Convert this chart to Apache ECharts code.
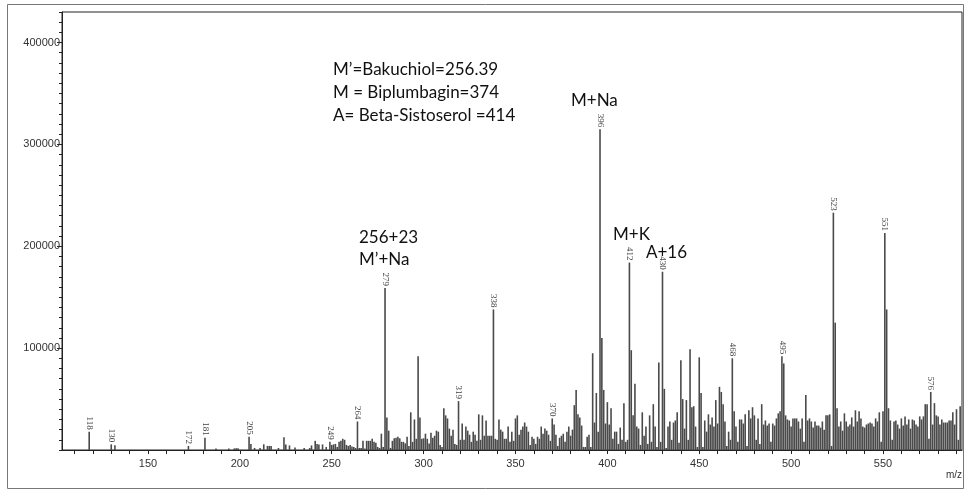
<!DOCTYPE html>
<html><head><meta charset="utf-8">
<script src="https://cdn.jsdelivr.net/npm/echarts@6/dist/echarts.min.js"></script>
<style>html,body{margin:0;padding:0;background:#fff}#c{width:968px;height:492px}</style>
</head><body><div id="c"></div>
<script>
// Sparse low-mass peaks (m/z, intensity)
const lowMz = [118,130,132,172,181,187,194,197,198,199,205,206,208,211,213,215,216,217,221,224,225,227,230,235,238,239,241,242,243,245,247];
const lowIntensity = [18000,5600,4600,4000,12000,1500,1500,1600,1600,1600,13000,6000,2000,2000,5600,4000,4000,4000,2000,12500,5500,4500,2500,2000,2000,4500,9000,6000,5500,5500,3000];

// Dense region: one peak per integer m/z starting at 249
const denseStartMz = 249;
const intensity249to328 = [
  8000,5000,5500,6000,3000,8000,9000,11000,10000,5000,
  4000,5000,3500,3000,2000,28000,2000,2000,9000,1500,
  9000,9000,9000,11000,8000,7000,3000,2000,16000,3000,
  159000,32000,19000,2000,9000,11500,12000,13000,11500,8000,
  8000,6500,13000,4000,37000,8000,30000,11000,92000,32000,
  11000,11500,16000,11000,6500,17000,12000,14000,19000,18000,
  5000,3000,41000,34000,31000,21000,14000,20000,6000,5000,
  48000,10000,26000,10000,23000,19000,15000,8000,18000,15000
];
const intensity329to408 = [
  9000,35000,10000,34000,14000,29000,14000,14000,14000,138000,
  11000,10000,30000,20000,18000,11000,11000,23000,8000,18000,
  9000,31000,34000,15000,20000,23000,27000,23000,18000,5000,
  13000,11000,6000,13000,11000,23000,16000,21000,19000,15000,
  9000,31000,25000,15000,4000,12000,14000,16000,8000,18000,
  23000,14000,20000,44000,59000,35000,32000,24000,3000,3000,
  13000,15000,3000,95000,27000,56000,18000,315000,110000,59000,
  26000,47000,25000,41000,11000,18000,18000,6000,22000,10000
];
const intensity409to498 = [
  46000,8000,10000,184000,98000,34000,65000,23000,21000,5000,
  37000,14000,23000,6000,34000,8000,45000,23000,3000,86000,
  8000,175000,60000,2000,23000,28000,10000,27000,29000,37000,
  7000,88000,50000,21000,49000,10000,99000,42000,43000,23000,
  3000,91000,56000,3000,29000,18000,35000,25000,32000,23000,
  49000,26000,62000,57000,45000,28000,4000,18000,10000,90000,
  38000,23000,8000,30000,30000,26000,35000,4000,39000,31000,
  42000,34000,10000,31000,6000,45000,25000,29000,24000,26000,
  8000,26000,24000,31000,36000,38000,92000,85000,34000,30000
];
const intensity499to592 = [
  29000,23000,31000,31000,31000,28000,21000,31000,8000,54000,
  29000,31000,28000,22000,28000,24000,24000,22000,28000,20000,
  34000,34000,35000,4000,233000,125000,41000,23000,28000,19000,
  36000,28000,23000,25000,32000,23000,39000,28000,38000,31000,
  23000,22000,25000,26000,27000,26000,23000,31000,28000,37000,
  8000,38000,213000,138000,41000,29000,10000,28000,29000,25000,
  21000,31000,24000,33000,25000,30000,21000,30000,29000,25000,
  23000,33000,30000,33000,45000,45000,11000,57000,25000,46000,
  34000,33000,25000,30000,27000,27000,27000,29000,29000,37000,
  25000,40000,10000,43000
];

const labeledPeaks = [118,130,172,181,205,249,264,279,319,338,370,396,412,430,468,495,523,551,576];
const xLabelValues = [150,200,250,300,350,400,450,500,550];
const xTickValues = [110,120,130,140,150,160,170,180,190,200,210,220,230,240,250,260,270,280,290,300,310,320,330,340,350,360,370,380,390,400,410,420,430,440,450,460,470,480,490,500,510,520,530,540,550,560,570,580,590];
const yLabelValues = [100000,200000,300000,400000];

const denseIntensity = [].concat(intensity249to328, intensity329to408, intensity409to498, intensity499to592);
const mz = lowMz.concat(denseIntensity.map((_, i) => denseStartMz + i));
const intensity = lowIntensity.concat(denseIntensity);

const data = mz.map((m, i) => ({
  value: [m, intensity[i]],
  label: { show: labeledPeaks.indexOf(m) >= 0 }
}));

const chart = echarts.init(document.getElementById('c'), null, { renderer: 'canvas' });
const annFont = 'Lato, "Open Sans", sans-serif';
const annColor = '#111';
function ann(text, x, y) {
  return { type: 'text', left: x, top: y, z: 100,
    style: { text: text, fontSize: 17, fontFamily: annFont, fill: annColor } };
}
chart.setOption({
  animation: false,
  backgroundColor: '#fff',
  grid: { left: 62, right: 6, top: 12, bottom: 42, show: true, borderColor: '#222', borderWidth: 1 },
  xAxis: {
    type: 'value', min: 103.2, max: 593,
    axisLine: { show: true, lineStyle: { color: '#222', width: 1 } },
    axisTick: { show: true, customValues: xTickValues, length: 4, lineStyle: { color: '#222' } },
    axisLabel: { customValues: xLabelValues, fontSize: 11, color: '#333', fontFamily: '"Liberation Sans", Arial, sans-serif', margin: 8,
      formatter: v => String(v) },
    splitLine: { show: false }
  },
  yAxis: [{
    type: 'value', min: 0, max: 430000,
    axisLine: { show: true, lineStyle: { color: '#222', width: 1 } },
    axisTick: { show: true, customValues: yLabelValues, length: 5, lineStyle: { color: '#222' } },
    axisLabel: { customValues: yLabelValues, fontSize: 11, color: '#333', fontFamily: '"Liberation Sans", Arial, sans-serif', margin: 2,
      formatter: v => String(v) },
    splitLine: { show: false }
  }, {
    type: 'value', min: 0, max: 430000, interval: 10000, position: 'left',
    axisLine: { show: false },
    axisTick: { show: true, length: 3, lineStyle: { color: '#222' } },
    axisLabel: { show: false },
    splitLine: { show: false }
  }],
  series: [{
    type: 'bar', barWidth: 1.6, yAxisIndex: 0,
    data: data,
    itemStyle: { color: '#4a4a4a' },
    label: {
      show: false, position: 'top', distance: 2, rotate: -90,
      align: 'right', verticalAlign: 'middle',
      fontSize: 9, fontFamily: '"Liberation Serif", serif', color: '#444',
      formatter: p => String(p.value[0])
    }
  }],
  graphic: [
    { type: 'rect', shape: { x: 7.5, y: 4.5, width: 956, height: 484 }, style: { fill: 'none', stroke: '#777', lineWidth: 1 }, silent: true },
    ann('M\u2019=Bakuchiol=256.39', 333, 61),
    ann('M = Biplumbagin=374', 333, 84),
    ann('A= Beta-Sistoserol =414', 333, 107),
    ann('M+Na', 571, 92),
    ann('256+23', 359, 229),
    ann('M\u2019+Na', 359, 251),
    ann('M+K', 613, 226),
    ann('A+16', 646, 244),
    { type: 'text', left: 946, top: 470, style: { text: 'm/z', fontSize: 10, fontFamily: '"Liberation Sans", Arial, sans-serif', fill: '#333' } }
  ]
});
</script></body></html>
